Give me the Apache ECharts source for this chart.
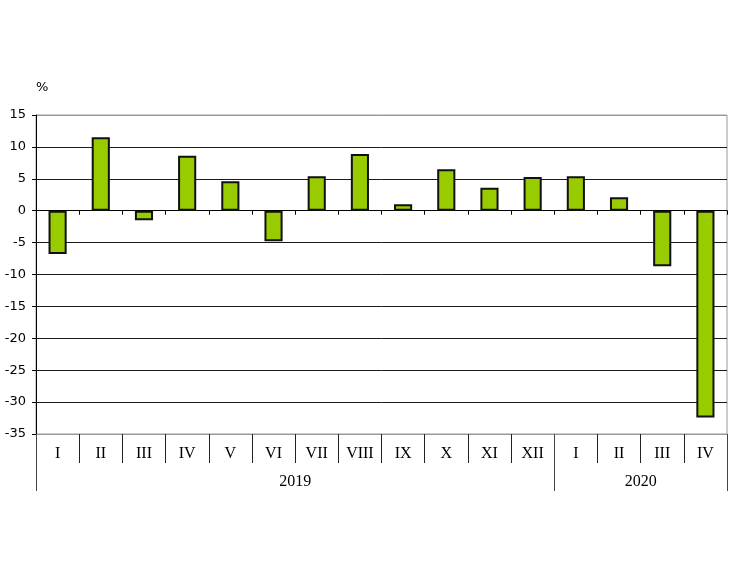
<!DOCTYPE html>
<html><head><meta charset="utf-8">
<script src="https://cdn.jsdelivr.net/npm/echarts@6/dist/echarts.min.js"></script>
<style>html,body{margin:0;padding:0;background:#fff}#c{width:740px;height:582px}</style>
</head><body><div id="c"></div>
<script>
const months = ['I','II','III','IV','V','VI','VII','VIII','IX','X','XI','XII','I','II','III','IV'];
const values = [-6.8, 11.5, -1.5, 8.6, 4.6, -4.8, 5.4, 8.9, 1.0, 6.5, 3.6, 5.3, 5.4, 2.1, -8.7, -32.4];
const years = ['2019', '2020'];
const yearCounts = [12, 4];
const yTicks = [-35, -30, -25, -20, -15, -10, -5, 0, 5, 10, 15];

const bounds = [0];
yearCounts.forEach(c => bounds.push(bounds[bounds.length - 1] + c));
const centers = yearCounts.map((c, i) => bounds[i] + c / 2);
const total = bounds[bounds.length - 1];

const chart = echarts.init(document.getElementById('c'), null, {renderer: 'canvas'});
const gridColors = yTicks.map((v, i) => (i === 0 || i === yTicks.length - 1) ? '#9a9a9a' : '#1a1a1a');

chart.setOption({
  animation: false,
  backgroundColor: '#fff',
  grid: {left: 36, right: 13, top: 115, bottom: 148, show: true, borderColor: '#9a9a9a', borderWidth: 1},
  xAxis: [
    {
      type: 'category', data: months, gridIndex: 0,
      axisLine: {show: true, onZero: true, lineStyle: {color: '#000', width: 1}},
      axisTick: {show: true, length: 4, lineStyle: {color: '#000'}},
      axisLabel: {show: false}, splitLine: {show: false}
    },
    {
      type: 'category', data: months, gridIndex: 0, position: 'bottom',
      axisLine: {show: true, onZero: false, lineStyle: {color: '#9a9a9a', width: 1}},
      axisTick: {show: true, length: 29, lineStyle: {color: '#222'}},
      axisLabel: {show: true, margin: 12, color: '#000', fontFamily: 'Liberation Serif', fontSize: 16},
      splitLine: {show: false}
    },
    {
      type: 'value', gridIndex: 0, position: 'bottom', min: 0, max: total,
      axisLine: {show: false, onZero: false},
      axisTick: {show: true, length: 57, customValues: bounds, lineStyle: {color: '#444'}},
      axisLabel: {show: true, margin: 40, customValues: centers, color: '#000', fontFamily: 'Liberation Serif', fontSize: 16,
        formatter: v => { const i = centers.indexOf(v); return i >= 0 ? years[i] : ''; }},
      splitLine: {show: false}
    }
  ],
  yAxis: {
    type: 'value', min: -35, max: 15, interval: 5,
    name: '%', nameLocation: 'end', nameGap: 21,
    nameTextStyle: {color: '#000', fontFamily: 'DejaVu Sans', fontSize: 13, align: 'left'},
    axisLine: {show: true, lineStyle: {color: '#000', width: 1}},
    axisTick: {show: true, length: 4, lineStyle: {color: '#000'}},
    axisLabel: {margin: 10, color: '#000', fontFamily: 'DejaVu Sans', fontSize: 13},
    splitLine: {show: true, lineStyle: {color: gridColors, width: 1}}
  },
  series: [{
    type: 'bar', xAxisIndex: 0, data: values, barWidth: '42%',
    itemStyle: {color: '#99CC00', borderColor: '#111', borderWidth: 2}
  }]
});
</script>
</body></html>
